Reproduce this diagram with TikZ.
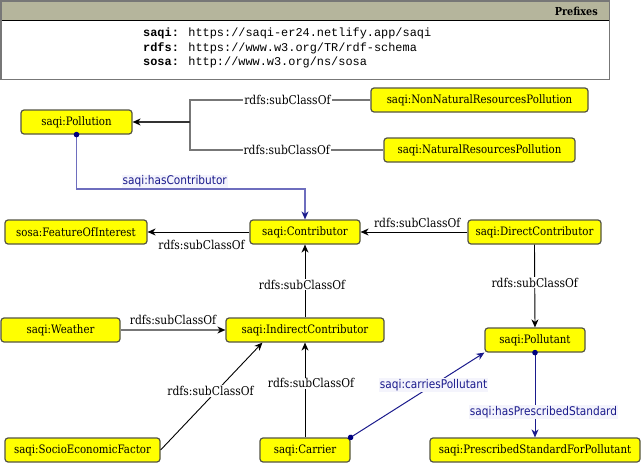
\documentclass[tikz,border=0pt]{standalone}
\usepackage{fontspec}
\newfontfamily\nodefont[FakeStretch=0.88]{DejaVu Serif}
\newfontfamily\linkfont[FakeStretch=0.88]{DejaVu Sans}
\newfontfamily\prefixfont{Liberation Mono}
\usetikzlibrary{arrows.meta,calc}

\definecolor{clsyellow}{RGB}{255,255,0}
\definecolor{clsborder}{RGB}{85,85,68}
\definecolor{headfill}{RGB}{181,181,156}
\definecolor{relblue}{RGB}{26,26,140}
\definecolor{relbluelight}{RGB}{110,110,190}
\definecolor{reldot}{RGB}{0,0,128}
\definecolor{relbg}{RGB}{244,244,252}
\definecolor{subgray}{RGB}{119,119,119}
\definecolor{subdark}{RGB}{51,51,51}

\begin{document}
\begin{tikzpicture}[
  x=1pt, y=-1pt,
  cls/.style={draw=clsborder, fill=clsyellow, rounded corners=3pt, line width=1.2pt,
              font=\nodefont\fontsize{11.6}{13}\selectfont,
              minimum height=24pt, inner sep=0pt},
  sub/.style={-{Stealth[length=8pt,width=7pt,inset=2.5pt,color=black]}, line width=0.9pt},
  subg/.style={subgray, line width=1.6pt},
  rel/.style={{Circle[length=5.5pt,color=reldot]}-{Stealth[length=8pt,width=7pt,inset=2.5pt,color=relblue]},
              relblue, line width=1pt, shorten <=-2.75pt},
  lbl/.style={font=\nodefont\fontsize{12.2}{14}\selectfont, text=black, fill=white, inner sep=1pt},
  rlbl/.style={font=\linkfont\fontsize{12}{14}\selectfont, text=relblue, fill=relbg, inner sep=1pt},
  prefixline/.style={anchor=base west, inner sep=0pt, font=\prefixfont\fontsize{11.9}{14}\selectfont},
]
\useasboundingbox (0,0) rectangle (641,463);

% Prefixes box
\fill[headfill] (0.75,0.75) rectangle (609.25,20);
\draw[line width=1pt] (0.75,20) -- (609.25,20);
\draw[subgray, line width=1.5pt] (0.75,0.75) rectangle (609.25,79.25);
\node[anchor=east, inner sep=0pt, font=\nodefont\bfseries\fontsize{11}{13}\selectfont]
  (prefixtitle) at (598,11) {Prefixes};
\node[prefixline] (psaqi) at (143,36.5) {\textbf{saqi:} https://saqi-er24.netlify.app/saqi};
\node[prefixline] (prdfs) at (143,51.5) {\textbf{rdfs:} https://www.w3.org/TR/rdf-schema};
\node[prefixline] (psosa) at (143,65.5) {\textbf{sosa:} http://www.w3.org/ns/sosa};

% Classes
\node[cls, minimum width=111pt] (pollution)   at (76.5,122)  {saqi:Pollution};
\node[cls, minimum width=217pt] (nonnatural)  at (479.5,100) {saqi:NonNaturalResourcesPollution};
\node[cls, minimum width=191pt] (natural)     at (479.5,150) {saqi:NaturalResourcesPollution};
\node[cls, minimum width=142pt] (feature)     at (76,232)    {sosa:FeatureOfInterest};
\node[cls, minimum width=110pt] (contributor) at (305,232)   {saqi:Contributor};
\node[cls, minimum width=133pt] (direct)      at (534.5,232) {saqi:DirectContributor};
\node[cls, minimum width=119pt] (weather)     at (60.5,330)  {saqi:Weather};
\node[cls, minimum width=158pt] (indirect)    at (305,330)   {saqi:IndirectContributor};
\node[cls, minimum width=100pt] (pollutant)   at (535,340)   {saqi:Pollutant};
\node[cls, minimum width=155pt] (socio)       at (82.5,450)  {saqi:SocioEconomicFactor};
\node[cls, minimum width=90pt]  (carrier)     at (305,450)   {saqi:Carrier};
\node[cls, minimum width=210pt] (prescribed)  at (535,450)   {saqi:PrescribedStandardForPollutant};

% Pollution subclasses joined before the arrow
\coordinate (join) at (190,122);
\draw[subg] (nonnatural.west) -| node[lbl, pos=0.23]{rdfs:subClassOf} (join);
\draw[subg] (natural.west) -| node[lbl, pos=0.25]{rdfs:subClassOf} (join);
\draw[sub, subdark, line width=1.8pt] (join) -- (pollution.east);

% hasContributor
\coordinate (hc1) at (76.5,189);
\coordinate (hc2) at (305,189);
\draw[rel, relbluelight, line width=1.5pt] (pollution.south) -- (hc1)
  -- node[rlbl, pos=0.43, anchor=south]{saqi:hasContributor}
  (hc2) -- (contributor.north);

% Contributor hierarchy
\draw[sub] (contributor.west) -- node[lbl, pos=0.47, anchor=north, yshift=-6.5pt]{rdfs:subClassOf} (feature.east);
\draw[sub] (direct.west) -- node[lbl, pos=0.47, anchor=south, yshift=3pt]{rdfs:subClassOf} (contributor.east);
\draw[sub] (direct.south) -- node[lbl, pos=0.46]{rdfs:subClassOf} (pollutant.north);
\draw[sub] (indirect.north) -- node[lbl, pos=0.45, xshift=-3pt]{rdfs:subClassOf} (contributor.south);
\draw[subg, -{Stealth[length=8pt,width=7pt,inset=2.5pt,color=black]}] (weather.east)
  -- node[lbl, anchor=south, yshift=4pt]{rdfs:subClassOf} (indirect.west);
\coordinate (indsocio) at ($(indirect.south west)+(37,0)$);
\draw[sub] (socio.east) -- node[lbl, pos=0.55, xshift=-6pt]{rdfs:subClassOf} (indsocio);
\draw[sub] (carrier.north) -- node[lbl, pos=0.57, xshift=6pt]{rdfs:subClassOf} (indirect.south);

% Object properties
\draw[rel] (carrier.north east) -- node[rlbl, pos=0.62]{saqi:carriesPollutant} (pollutant.south west);
\draw[rel] (pollutant.south) -- node[rlbl, pos=0.7, xshift=8.5pt]{saqi:hasPrescribedStandard} (prescribed.north);

\end{tikzpicture}
\end{document}
